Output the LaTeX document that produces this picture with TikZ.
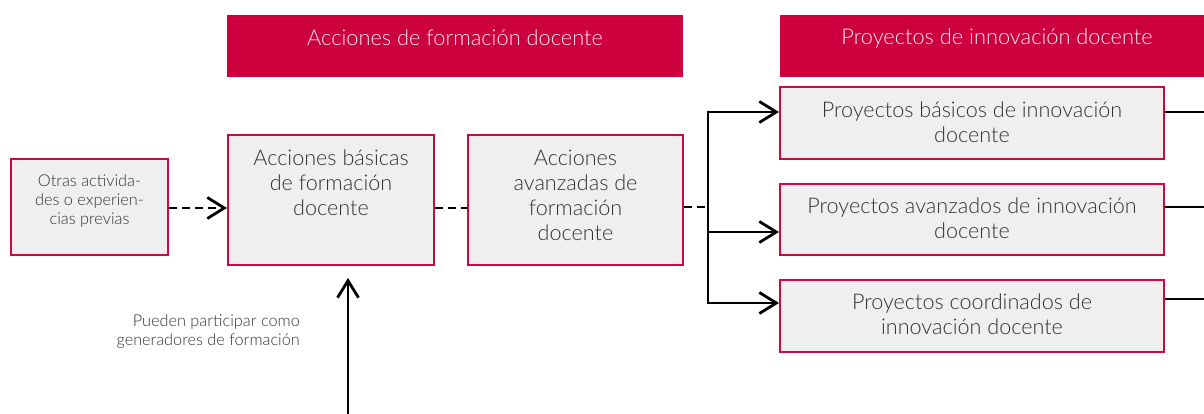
\documentclass[tikz,border=0pt]{standalone}
\usepackage{fontspec}
\setmainfont{Lato}[UprightFont={* Light},BoldFont={*}]
\usetikzlibrary{arrows.meta}
\definecolor{hdr}{HTML}{CC003D}
\definecolor{bord}{HTML}{D1083F}
\definecolor{boxfill}{HTML}{EFEFEF}
\definecolor{txtc}{HTML}{333333}
\definecolor{hdrtxt}{HTML}{FBEAF0}
\tikzset{
  header/.style={fill=hdr,draw=none,inner sep=0pt},
  hdrtext/.style={text=hdrtxt,font=\fontsize{21.8}{25}\selectfont,inner sep=0pt},
  box/.style={fill=boxfill,draw=bord,line width=2pt,inner sep=0pt},
  boxtext/.style={text=txtc,font=\fontsize{21.6}{25}\selectfont,align=center,inner sep=0pt},
  smalltext/.style={text=txtc,font=\fontsize{16.3}{19}\selectfont,inner sep=0pt},
  conn/.style={line width=2.8pt,black},
  arr/.style={conn,-{Straight Barb[length=17pt,width=21pt,line width=2.8pt]}},
  dashconn/.style={conn,dash pattern=on 8pt off 5pt},
}
\begin{document}
\begin{tikzpicture}[x=1pt,y=-1pt]
\useasboundingbox (0,0) rectangle (1204,414);
% headers
\node[header,minimum width=456pt,minimum height=62pt] (h1) at (455,46) {};
\node[hdrtext] (h1t) at (455,38) {Acciones de formación docente};
\node[header,minimum width=440pt,minimum height=62pt,anchor=west] (h2) at (780,46) {};
\node[hdrtext] (h2t) at (997,38) {Proyectos de innovación docente};
% left boxes
\node[box,minimum width=157pt,minimum height=96pt] (b1) at (89.5,207) {};
\node[smalltext,align=center] (b1t) at (89.5,201) {Otras activida-\\des o experien-\\cias previas};
\node[box,minimum width=206pt,minimum height=130pt] (b2) at (331,200) {};
\node[boxtext] (b2t) at (331,182.5) {Acciones básicas\\de formación\\docente};
\node[box,minimum width=215pt,minimum height=130pt] (b3) at (575.5,200) {};
\node[boxtext] (b3t) at (575.5,195) {Acciones\\avanzadas de\\formación\\docente};
% right boxes
\node[box,minimum width=384pt,minimum height=72pt] (pA) at (972,123) {};
\node[boxtext] (pAt) at (972,122) {Proyectos básicos de innovación\\docente};
\node[box,minimum width=384pt,minimum height=71pt] (pB) at (972,219.5) {};
\node[boxtext] (pBt) at (972,218) {Proyectos avanzados de innovación\\docente};
\node[box,minimum width=384pt,minimum height=72pt] (pC) at (972,316) {};
\node[boxtext] (pCt) at (972,314.5) {Proyectos coordinados de\\innovación docente};
% label
\node[smalltext,align=right,anchor=east] (lbl) at (300,332) {Pueden participar como\\generadores de formación};
% coordinates
\coordinate (j1) at (708,112);
\coordinate (jd) at (708,207);
\coordinate (j2) at (708,232);
\coordinate (j3) at (708,303);
\coordinate (vb) at (348,416);
\coordinate (eA) at (1206,112);
\coordinate (eB) at (1206,207);
\coordinate (eC) at (1206,299);
% connectors
\draw[dashconn,-{Straight Barb[length=17pt,width=21pt,line width=2.8pt]}] ([yshift=-1pt]b1.east) -- ([yshift=-8pt]b2.west);
\draw[dashconn] ([yshift=-8pt]b2.east) -- ([yshift=-8pt]b3.west);
\draw[dashconn] ([yshift=-7pt]b3.east) -- (jd);
\draw[conn] ([yshift=1.4pt]j1) -- ([yshift=-1.4pt]j3);
\draw[arr] (j1) -- ([yshift=11pt]pA.west);
\draw[arr] (j2) -- ([yshift=-12.5pt]pB.west);
\draw[arr] (j3) -- ([yshift=13pt]pC.west);
\draw[conn] ([yshift=11pt]pA.east) -- (eA);
\draw[conn] ([yshift=12.5pt]pB.east) -- (eB);
\draw[conn] ([yshift=17pt]pC.east) -- (eC);
\draw[arr] (vb) -- ([xshift=17pt,yshift=-12pt]b2.south);
\end{tikzpicture}
\end{document}
